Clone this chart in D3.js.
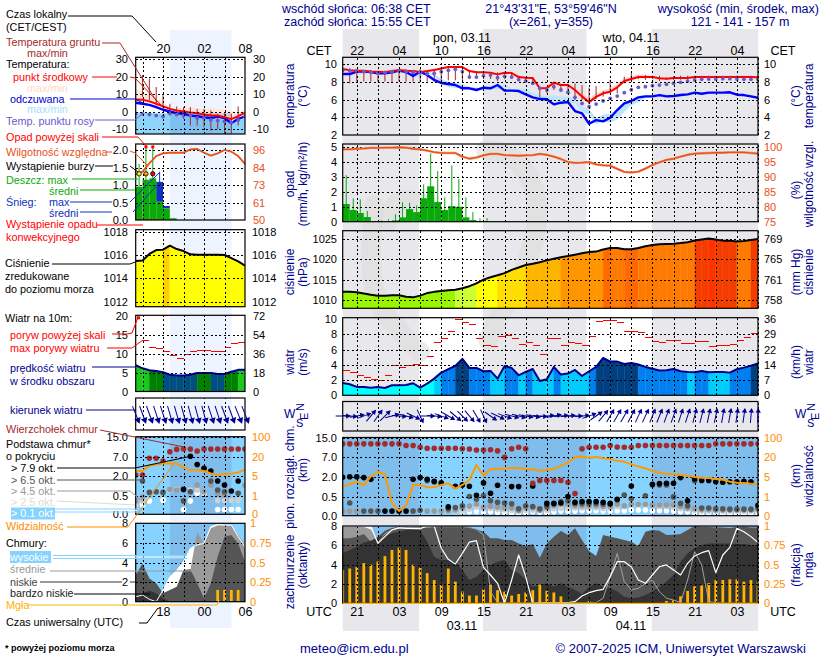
<!DOCTYPE html>
<html>
<head>
<meta charset="utf-8">
<script src="https://cdnjs.cloudflare.com/ajax/libs/d3/7.8.5/d3.min.js"></script>
<style>
  html, body { margin: 0; padding: 0; background: #fff; }
  svg { display: block; }
  text { font-family: "Liberation Sans", Arial, sans-serif; }
</style>
</head>
<body>
<svg id="chart" width="820" height="660"></svg>
<script>
// ---- main panel data (hourly, 19 UTC 02.11 -> 06 UTC 05.11) ----
const cetLabels = ['22', '04', '10', '16', '22', '04', '10', '16', '22', '04'];
const utcLabels = ['21', '03', '09', '15', '21', '03', '09', '15', '21', '03'];
const labelHours = [2, 8, 14, 20, 26, 32, 38, 44, 50, 56];
const gridHours = d3.range(2, 60, 3);
const nightHours = [[0, 10.85], [19.92, 34.63], [43.9, 59]];

const tempMid = [9.44,9.29,9.25,9.25,9.13,9.13,9.06,9.2,9.32,9.25,9.2,9.1,9.2,9.32,9.5,9.66,9.66,9.66,9.2,9.06,9.06,9.02,8.83,9.02,8.98,8.53,8.46,8.42,7.26,7.3,7.9,7.63,7.63,7.07,6.35,5.7,6.3,6.7,6.87,7.37,8.08,8.3,8.53,8.53,8.53,8.4,8.35,8.42,8.42,8.42,8.53,8.53,8.53,8.53,8.53,8.53,8.53,8.53,8.53,8.5];
const tempMax = [9.5,9.45,9.4,9.35,9.25,9.2,9.2,9.3,9.4,9.35,9.3,9.2,9.3,9.4,9.55,9.7,9.72,9.72,9.3,9.15,9.15,9.1,8.95,9.1,9.05,8.65,8.6,8.55,7.5,7.6,8.1,7.85,7.8,7.35,6.75,6.1,6.7,7.05,7.3,7.8,8.4,8.65,8.85,8.8,8.7,8.55,8.5,8.5,8.5,8.5,8.6,8.6,8.6,8.6,8.6,8.6,8.6,8.6,8.6,8.6];
const tempMin = [9.1,8.9,8.85,8.9,8.9,8.95,8.95,8.95,9.1,9.05,9.05,9.0,9.1,9.2,9.4,9.55,9.55,9.55,9.1,8.95,8.95,8.9,8.7,8.9,8.85,8.4,8.3,8.3,7.1,7.1,7.7,7.45,7.45,6.9,6.2,5.55,6.1,6.55,6.7,7.2,7.95,8.2,8.4,8.4,8.4,8.3,8.25,8.3,8.3,8.3,8.4,8.4,8.4,8.4,8.4,8.4,8.4,8.4,8.4,8.4];
const feels = [8.87,8.87,9.14,9.14,9.1,8.95,8.95,9.06,9.25,9.1,8.65,9.14,8.76,8.2,7.86,7.74,7.63,7.26,7.26,7.07,7.33,7.26,7.63,7.0,7.0,6.95,6.58,6.24,6.05,6.02,5.45,5.64,5.71,4.7,4.44,3.27,3.68,3.53,3.95,4.81,5.56,5.83,6.24,6.35,6.35,6.5,6.35,6.39,6.5,6.58,6.77,6.65,6.77,6.77,6.77,6.81,6.54,6.5,6.35,6.2];
const feelsMax = [9.0,9.0,9.2,9.2,9.2,9.05,9.05,9.15,9.3,9.2,8.95,8.8,9.2,8.9,8.3,8.0,7.85,7.75,7.4,7.35,7.2,7.45,7.4,7.75,7.15,7.2,7.2,6.75,6.5,6.4,6.5,6.3,6.3,6.1,5.2,4.9,3.9,4.3,4.4,4.8,5.4,5.9,6.1,6.45,6.5,6.45,6.55,6.45,6.5,6.6,6.7,6.85,6.75,6.85,6.85,6.85,6.6,6.55,6.4,6.25];
const feelsMin = [8.75,8.75,9.05,9.05,9.0,8.85,8.85,8.95,9.15,9.0,8.6,8.5,9.05,8.55,7.8,7.4,7.3,7.3,7.15,7.15,6.95,7.2,7.1,7.5,6.9,6.85,6.8,6.45,6.15,5.95,5.9,5.35,5.5,5.6,4.6,4.3,3.2,3.55,3.4,3.75,4.6,5.35,5.7,6.1,6.25,6.25,6.4,6.25,6.3,6.45,6.5,6.7,6.55,6.7,6.7,6.7,6.45,6.4,6.25,6.1];
const dewPoint = [9.3,9.25,9.21,9.14,9.06,8.98,9.06,9.14,9.25,9.14,9.06,9.06,8.91,8.95,9.14,9.29,9.4,9.14,8.53,8.53,8.68,8.76,8.46,8.61,8.53,8.23,8.08,7.82,7.26,7.07,7.44,7.07,6.8,6.24,5.56,5.19,5.49,5.83,6.13,6.39,6.77,7.1,7.37,7.44,7.56,7.63,7.71,7.82,7.93,8.08,8.2,8.27,8.31,8.31,8.35,8.35,8.31,8.27,8.27,8.27];
const groundMax = [9.44,9.51,9.44,9.32,9.32,9.21,9.21,9.32,9.44,9.44,9.32,9.44,9.32,9.44,9.59,9.66,9.66,9.66,9.32,9.21,9.14,9.06,9.06,9.06,9.06,8.68,8.53,8.46,7.44,7.33,8.0,7.71,7.71,7.82,7.63,7.33,7.52,6.95,8.2,7.44,8.57,9.06,8.68,8.75,8.68,8.68,8.46,8.61,8.68,8.68,8.68,8.68,8.68,8.68,8.68,8.68,8.68,8.68,8.68,8.68];
const groundMin = [9.14,7.82,8.01,8.01,8.01,8.01,8.01,7.93,8.01,8.01,8.01,8.01,8.01,8.01,8.08,8.16,8.16,8.2,8.31,8.31,8.31,8.31,8.08,8.31,8.31,8.08,8.01,7.71,6.2,6.69,7.07,7.07,6.8,5.94,5.94,5.45,6.05,6.32,6.8,6.69,7.82,8.2,8.31,8.2,8.31,8.08,8.23,8.2,8.23,8.23,8.23,8.23,8.23,8.23,8.23,8.23,8.23,8.23,8.23,8.23];

const rainMean = [1.18,.78,.58,.31,.02,.02,.02,.09,.29,.84,.64,1.56,2.36,1.31,.78,1.04,1.0,.29,.11,.04];
const rainMax = [3.1,1.56,1.49,.71,.05,.09,.16,.49,1.29,1.27,1.07,2.49,4.56,3.38,1.62,3.76,2.84,1.62,.64,.22,.24];
const humidity = [99.1,99.1,99.3,99.4,99.6,99.6,99.7,99.7,99.8,99.7,99.3,99.1,98.7,98.2,97.9,97.9,97.9,96.7,96,96.4,97.1,97.6,97.6,97.2,97.1,97,97.1,97.2,97.6,97.3,96.7,95.9,94.9,94.6,94.7,94.9,94.1,93.8,93.7,92.6,91.6,91.4,91.7,92.7,93.9,94.8,95.6,96,96.7,97.3,97.7,97.8,97.9,98,98,98.1,98.1,98.1,97.9,97.7];

const pressure = [1012,1012,1011.9,1011.6,1011.3,1011.07,1011.07,1011.15,1011.15,1010.8,1010.65,1011.07,1011.7,1012,1012.2,1012.4,1012.5,1012.9,1013.4,1014.1,1015,1015.6,1016.07,1016.6,1017.4,1018,1018.6,1018.9,1019.3,1019.75,1020.15,1020.5,1020.8,1021.15,1021.5,1021.8,1021.9,1022.4,1022.8,1022.8,1022.5,1022.5,1022.8,1023.2,1023.5,1023.7,1023.8,1023.85,1024,1024.2,1024.65,1024.9,1025.1,1024.85,1024.6,1024.6,1024.4,1024.5,1024.75,1025];

const windSpeed = [1.62,1.45,1.1,1.1,1,1.1,.96,1.32,1.32,1.36,1.58,1.0,1.54,2.19,2.98,3.42,3.86,4.78,3.6,3.6,3.16,3.2,2.19,3.86,3.6,2.63,3.07,3.46,1.89,2.1,3.73,2.72,2.85,3.33,2.54,3.16,3.73,4.91,4.43,4.43,4.12,4.25,4.04,3.73,3.5,3.25,3.29,3.46,3.16,3.07,3.03,3.2,3.03,3.07,3.07,2.98,3.42,3.64,3.9,4.17];
const windGust = [3.25,2.98,2.59,2.32,2.02,1.93,2.59,3.95,3.68,3.86,4.04,3.95,5.04,6.93,7.41,8.42,10,9.6,9.3,7.41,6.58,6.4,7.72,7.9,7.41,6.67,6.93,6.58,5.35,7.41,7.41,6.54,6.93,6.75,6.54,7.72,9.74,9.82,9.82,9.6,8.42,8.42,8.25,7.59,7.06,6.93,7.19,7.19,6.8,6.8,7.06,7.06,6.4,6.54,6.54,6.67,7.19,7.59,8.11];
const windDir = [90,95,80,70,40,35,45,75,95,105,115,155,90,95,110,120,130,135,140,150,155,125,115,110,105,105,100,100,95,85,80,85,85,90,85,70,55,40,30,30,30,28,25,25,22,22,20,20,18,18,15,15,12,12,10,10,8,8,5,3];

const cloudTop = [12.4,12.4,12.4,12.4,12.4,12.4,12.4,12.4,12.4,11.7,11.7,11,10.6,10.6,10.6,10.6,10.6,10.4,10.3,9.9,9.9,10,9.5,6.9,10.4,11,10.4,1.5,1.72,1.72,1.72,1.72,1.58,.72,10.4,11,11,11,11.7,11.1,11,11,11.7,11.7,11.7,11.7,11.7,11.7,11.7,11.7,11.7,11.7,11.7,12.4,12.4,12.4,12.4,12.4,12.4,12.4];
const base79 = [1.95,2,2,1.93,1.8,null,.12,.12,.12,.12,1.8,1.93,1.8,1.65,1.53,.23,1.28,1.38,1.28,.6,1.53,.75,1.35,null,1.25,1.25,null,1.3,null,.32,.32,.33,.5,.35,.37,.37,.37,.35,.32,.43,null,1.3,null,null,1.43,1.48,1.5,1.5,1.93,.39,1.83,1.72,1.72,1.62,1.58,1.62,1.62,1.65,1.62,.27];
const base65 = [null,.33,null,.12,.12,.12,null,null,null,null,.12,.14,1.7,1.6,1.5,.18,.21,.26,.5,.43,.55,.39,.35,.33,.31,.18,.26,.24,.18,.24,.31,.37,.39,.32,.32,.32,.32,.3,.3,.41,.61,.44,null,.56,1.38,1.38,1.38,.49,.32,.26,1.7,.2,.2,.18,.18,.17,.17,.17,.17,.2];
const base45 = [.12,.12,.12,null,null,null,null,null,null,null,null,null,.12,.12,.12,.13,.15,.2,.25,.3,.22,.24,.22,.2,.2,.13,.2,.2,.14,.2,.26,.3,.3,.26,.26,.26,.26,.24,.24,.3,.26,.3,.3,.3,.28,.28,.28,.28,.24,.2,.18,.16,.16,.15,.15,.15,.15,.15,.15,.16];
const base25 = [null,null,null,null,null,null,null,null,null,null,null,null,null,null,null,null,.11,.12,.17,.22,.17,.19,.16,.15,.14,.13,.14,.14,.13,.14,.18,.19,.19,.2,.2,.2,.2,.19,.19,.24,.24,.32,.3,.3,.24,.24,.24,.22,.18,.17,.14,.12,.12,.12,.12,.12,.12,.12,.12,.12];
const base01 = [null,null,null,null,null,null,null,null,null,null,null,null,null,null,null,null,null,.1,.1,.11,.1,.1,.09,.09,.08,.08,.08,.1,.09,.08,.1,.12,.12,.12,.13,.13,.13,.12,.12,.13,.13,.15,.15,.15,.13,.13,.13,.12,.1,.1,.08,.07,.07,.07,.06,.06,.06,.06,.06,.06];
const visibility = [3,3.53,4,3.27,5.2,8.8,7,.65,.25,.53,3.33,3.33,2.87,2.87,3.33,3.67,2.6,3.33,4.33,13.9,5.76,10.6,11.1,11.1,11.6,11.6,10.8,10.6,9.3,10.3,10.8,13.4,15.7,20,21,19.5,20,19,18.2,17.2,16.4,14.4,12.8,11.4,9.3,8,7.3,6.8,6.3,5.8,4.93,4.8,4.73,4.53,4.4,4,3.8,3.73,3.6,3.53];

const cloudHigh = [8,8,8,8,8,6.2,6.9,7.6,7.8,7.76,7.72,7.72,8,8,5.7,4.55,4.07,5.17,6.34,6.48,3.72,2.93,2.07,0,2.41,5,2.76,0,.07,.07,.07,.07,.07,.17,.76,1.1,1.31,1.45,2.76,4.31,4.31,3.79,2.41,2.07,2.93,3.79,3.97,3.45,2.93,4.14,4.9,5.24,5.45,3.17,5,5.79,7.76,7.41,6.9,6.28];
const cloudMid = [8,8,8,7.86,7.6,6.28,7.17,7.59,7.86,7.86,7.86,7.86,7.86,7.93,7.93,7.93,7.93,7.93,7.86,7.66,7.07,1.2,.07,.05,.05,.05,.05,.05,.05,.05,.05,.05,.05,.05,.05,.07,.07,.52,2.76,5.17,2.24,1.38,1.55,2.07,2.41,1.2,.52,.34,.07,2.41,5.34,3.97,.17,.07,.02,.02,.02,.02,.02,.02];
const cloudLow = [6.72,6.72,6.9,7.17,6.38,6.9,7.52,7.79,7.93,7.93,7.86,7.93,7.93,7.93,7.9,7.93,7.93,7.97,7.86,7.66,7.41,6.72,6.72,6.55,6.55,6.2,5.93,6.14,4.72,6.2,6.9,7.48,7.07,7.76,6.55,5.41,4.9,7.07,6.9,6.72,6.55,6.38,5.93,7.41,7.59,7.52,7.07,7.1,7.17,7.59,8,7.9,7.9,7.85,7.85,7.8,7.9,7.95,7.85,7.85];
const cloudVeryLow = [5.17,5.52,5.86,6.28,6.48,6.83,7.03,7.24,7.41,7.59,7.76,7.59,6.38,4.83,4.48,4.48,4.31,3.45,2.41,2.76,3.45,3.97,4.31,4.48,3.45,3.1,2.41,1.72,1.9,2.07,1.72,2.07,1.72,1.38,.97,1.72,2.07,1.72,1.55,1.21,.69,.52,.59,.86,1.21,1.72,2.24,2.93,4.31,5.17,5.69,6.03,6.2,6.2,6.2,6.2,6.14,6.14,6.03,6.03];
const fog = [.43,.45,.47,.52,.5,.54,.61,.69,.72,.69,.5,.46,.39,.3,.24,.45,.28,.15,.1,.1,.18,.24,.17,.15,.1,.12,.14,.17,.24,.16,.14,.09,0,0,0,.03,0,0,0,0,0,0,0,0,0,0,.03,.04,.09,.16,.22,.23,.26,.3,.3,.31,.31,.28,.3,.28];

// ---- left panel data (hourly, 15 UTC -> 07 UTC) ----
const leftTopLabels = ['20', '02', '08'];
const leftBottomLabels = ['18', '00', '06'];
const leftLabelHours = [4, 10, 16];
const leftGridHours = [1, 4, 7, 10, 13];

const lTemp = [6.9,6.7,5.8,4.4,2.9,1.5,.6,0,-.6,-1,-1.7,-2.3,-2.3,-3.2,-4.4,-2.7,-.8];
const lTempMax = [13.5,11,9,7,5,2.5,1.5,2.5,2.5,2,1.5,2,1.5,1.5,.5,-1.3,1.5];
const lFeels = [5,4.4,3.8,2.5,1,0,-1,-1.3,-2.3,-2.7,-3.3,-3.7,-2.9,-3.7,-6.7,-4.2,-2.9];
const lFeelsMax = [-.5,-.5,-.7,-1,-1,-.8,-1.2,-1.5,-1.8,-3,-3.5,-4,-4.2,-4.5,-5.5,-5,-4];
const lDew = [-1.3,-1.3,-1.7,-2.3,-2.9,-1,-1.7,-2.3,-2.3,-3.7,-3.7,-4.8,-5.2,-5.6,-6.2,-4.8,-2.9];
const lGroundMax = [null,20.8,18.8,14,9.2,4.4,2.9,2.5,2.5,1.5,1.5,.6,-1.3,-1,-1.3,2.9,null];
const lGroundMin = [null,8.3,6.4,3.5,1.5,-2.3,-2.3,-4.2,-8.1,-8.1,-9,-11,-10,-12.9,-12.9,-8,null];

const lRain = [.95,1.15,1.19,.52,.33,.05];
const lSnow = [0,0,0,.57,.07,0];
const lRainMax = [1.6,2.5,2.5];
const lSnowMax = [null,null,null,1.38];
const lStormBins = [0, 1, 2];
const lStormColors = ['#ffee00', '#ffa500', '#ff0000'];
const lConvectiveBins = [0, 1, 2, 3];
const lHumidity = [80.2,81.8,87.2,92,93.8,94.2,94.2,94.2,96.4,96.7,94.2,92.3,93.8,96,94.9,92,86.8];

const lPressure = [1015.49,1015.54,1016.09,1016.43,1016.46,1016.8,1016.51,1016.34,1016.06,1016.03,1016.03,1016.03,1016.03,1016,1015.74,1015.46,1015.09];

const lWind = [6.9,6.1,5.6,5.4,5.1,4.4,4.2,4.2,4.4,4.9,4.9,4.9,4.6,4.6,5.2,5.7,5.7];
const lGust = [20.5,13.4,11.6,11.4,10.4,9.5,8.7,9.7,10.5,10.7,10.8,10.4,10.4,11.6,12.7,12.9];
const lWindDir = [158,160,160,162,162,164,164,165,165,165,165,162,162,160,160,158,158];

const lCloudTop = [2.26,2.26,6.57,6.57,5.88,9,9.93,10.07,10.07,9.27,10.07,10.07,10.07,10.07,10.07,10.07,10.07];
const lBase79 = [null,null,null,null,null,null,null,.98,7.2,4.98,3.97,3.29,1.62,1.31,.86,1.62,null];
const lBase65 = [null,1.62,.75,.8,.75,null,null,.36,.8,null,null,1.62,.93,.8,null,.69,null];
const lBase45 = [.36,.47,null,null,null,.97,.93,null,null,1.31,.8,1.31,.69,.53,null,null,1.3];
const lBase25 = [.25,.36,null,null,null,.93,.98,null,.93,.93,.75,null,.37,.37,.37,.38,null];
const lBase01 = [null,.25,.36,null,.38,null,null,.13,.36,.68,.68,null,.13,.13,.13,.13,null];
const lVisibility = [8.9,8.9,13,14,14.8,14.8,14.8,11.5,9.4,9.4,8.9,7,5.8,6.3,6.8,7.8,9.9];

const lCloudHigh = [.5,.68,.24,0,1.19,2.55,3.2,4.1,5.44,5.8,5.95,7.65,7.89,7.82,7.82,6.63,5.6];
const lCloudMid = [0,0,0,0,0,0,0,.85,3.2,7.1,5.95,7.5,7.8,7.8,7.8,6.8,5.8];
const lCloudLow = [2.72,3.9,2.38,1.87,.85,1.19,1.53,3.23,3.3,1.87,.34,1.87,4.6,6.63,6.8,5.95,4.08];
const lCloudVeryLow = [.5,.85,1.12,.85,.34,0,0,0,0,0,0,0,0,0,0,0,0];
const lFog = [0,0,0,0,0,0,0,0,0,0,0,0,.15,.15,.15,.15,0];

// ---- axis ticks ----
const cloudBaseTicks = [0, .5, 2, 7, 15];
const visTicks = [0, 1, 5, 20, 100];
const fogTicks = [0, .25, .5, .75, 1];
const oktaTicks = [0, 2, 4, 6, 8];

// ---- colours ----
const navy = '#000090';
const orange = '#ff8c00';
const humColor = '#e8501a';
const brown = '#a52a2a';
const dewColor = '#6a5acd';
const baseColors = ['#ffffff', '#cfcfcf', '#9a9a9a', '#555555', '#000000'];
const skyDay = '#86d3ff';
const skyNight = '#7fbdec';

const svg = d3.select('#chart');

const xMain = d3.scaleLinear().domain([0, 59]).range([342.7, 758]);
const xLeft = d3.scaleLinear().domain([0, 16]).range([135.7, 245]);

// helpers
function clip(id, xs, top, bottom) {
    svg.append('clipPath').attr('id', id).append('rect')
        .attr('x', xs.range()[0]).attr('y', top)
        .attr('width', xs.range()[1] - xs.range()[0]).attr('height', bottom - top);
}

function grid(xs, hours, ys, ticks, top, bottom) {
    const gx = svg.append('g').attr('transform', 'translate(0,' + bottom + ')')
        .call(d3.axisBottom(xs).tickValues(hours).tickSize(top - bottom).tickFormat(''));
    const gy = svg.append('g').attr('transform', 'translate(' + xs.range()[0] + ',0)')
        .call(d3.axisLeft(ys).tickValues(ticks).tickSize(xs.range()[0] - xs.range()[1]).tickFormat(''));
    [gx, gy].forEach(g => {
        g.select('.domain').remove();
        g.selectAll('line').attr('stroke', '#000').attr('stroke-width', 1).attr('stroke-dasharray', '2,2.4')
            .attr('shape-rendering', 'crispEdges');
    });
}

function frame(xs, top, bottom) {
    svg.append('rect').attr('x', xs.range()[0]).attr('y', top)
        .attr('width', xs.range()[1] - xs.range()[0]).attr('height', bottom - top)
        .attr('fill', 'none').attr('stroke', '#000').attr('stroke-width', 1.2);
}

function yAxis(scale, ticks, xPos, side, color, fmt) {
    const axis = (side === 'left' ? d3.axisLeft(scale) : d3.axisRight(scale))
        .tickValues(ticks).tickSize(0).tickPadding(0).tickFormat(fmt || (d => d));
    const g = svg.append('g').attr('transform', 'translate(' + xPos + ',0)').call(axis);
    g.select('.domain').remove();
    g.selectAll('text').attr('fill', color || '#000').attr('font-size', 11)
        .style('font-family', '"Liberation Sans", Arial, sans-serif');
}

function xAxis(scale, ticks, labels, y) {
    const g = svg.append('g').attr('transform', 'translate(0,' + y + ')')
        .call(d3.axisTop(scale).tickValues(ticks).tickSize(0).tickPadding(0).tickFormat((d, i) => labels[i]));
    g.select('.domain').remove();
    g.selectAll('text').attr('fill', '#000').attr('font-size', 12.5)
        .style('font-family', '"Liberation Sans", Arial, sans-serif');
}

function label(text, x, y, color, size, anchor) {
    return svg.append('text').attr('x', x).attr('y', y).attr('fill', color || '#000')
        .attr('font-size', size || 10.8).attr('text-anchor', anchor || 'start').text(text);
}

function vertical(text, x, y, color) {
    svg.append('text').attr('transform', 'translate(' + x + ',' + y + ') rotate(-90)')
        .attr('fill', color || navy).attr('font-size', 12).attr('text-anchor', 'middle').text(text);
}

function leader(color, pts, width) {
    svg.append('path').attr('d', d3.line()(pts)).attr('fill', 'none')
        .attr('stroke', color).attr('stroke-width', width || 1);
}

function drawLine(xs, ys, values, color, width, clipId) {
    svg.append('path').datum(values)
        .attr('d', d3.line().defined(d => d != null).x((d, i) => xs(i)).y(d => ys(d)))
        .attr('fill', 'none').attr('stroke', color).attr('stroke-width', width)
        .attr('stroke-linejoin', 'round').attr('clip-path', 'url(#' + clipId + ')');
}

function ribbon(xs, ys, upper, lower, color, clipId) {
    svg.append('path').datum(upper.map((d, i) => [d, lower[i]]))
        .attr('d', d3.area().x((d, i) => xs(i)).y0(d => ys(d[1])).y1(d => ys(d[0])))
        .attr('fill', color).attr('clip-path', 'url(#' + clipId + ')');
}

function columns(xs, ys, values, bottom, colorOf, clipId) {
    const area = d3.area().x(d => xs(d)).y0(bottom).y1(d => ys(values[d]));
    svg.append('g').attr('clip-path', 'url(#' + clipId + ')')
        .selectAll('path').data(d3.range(values.length - 1)).join('path')
        .attr('d', i => area([i, i + 1]))
        .attr('fill', i => colorOf(i)).attr('stroke', i => colorOf(i)).attr('stroke-width', .4);
}

function dashes(xs, ys, values, color, clipId) {
    svg.append('g').attr('clip-path', 'url(#' + clipId + ')')
        .selectAll('line').data(values).join('line')
        .attr('x1', (d, i) => xs(i)).attr('x2', (d, i) => xs(i + 1))
        .attr('y1', d => ys(d)).attr('y2', d => ys(d))
        .attr('stroke', color).attr('stroke-width', 1).attr('shape-rendering', 'crispEdges');
}

function dots(xs, ys, values, color, r, clipId) {
    svg.append('g').attr('clip-path', clipId ? 'url(#' + clipId + ')' : null)
        .selectAll('circle').data(values.map((d, i) => [i, d]).filter(d => d[1] != null)).join('circle')
        .attr('cx', d => xs(d[0])).attr('cy', d => ys(d[1])).attr('r', r).attr('fill', color);
}

function ranges(xs, ys, hi, lo, color, width, clipId) {
    svg.append('g').attr('clip-path', 'url(#' + clipId + ')')
        .selectAll('line').data(hi.map((d, i) => [i, d, lo[i]]).filter(d => d[1] != null)).join('line')
        .attr('x1', d => xs(d[0])).attr('x2', d => xs(d[0]))
        .attr('y1', d => ys(d[1])).attr('y2', d => ys(d[2]))
        .attr('stroke', color).attr('stroke-width', width);
}

function arrows(xs, yMid, dirs, len, headSize) {
    const g = svg.append('g').selectAll('g').data(dirs).join('g')
        .attr('transform', (d, i) => 'translate(' + xs(i) + ',' + yMid + ') rotate(' + d + ')');
    g.append('line').attr('y1', len / 2).attr('y2', -len / 2)
        .attr('stroke', navy).attr('stroke-width', 1);
    g.append('path').attr('d', d3.symbol(d3.symbolTriangle, headSize))
        .attr('transform', 'translate(0,' + (-len / 2 + 2) + ')').attr('fill', navy);
}

// ---- background bands ----
nightHours.forEach(h => {
    svg.append('rect').attr('x', xMain(h[0])).attr('width', xMain(h[1]) - xMain(h[0]))
        .attr('y', 29).attr('height', 602).attr('fill', '#e8e8ec');
});
svg.append('rect').attr('x', 170).attr('width', 61.5).attr('y', 30).attr('height', 598).attr('fill', '#eef4ff');

// watermark swirl behind the main panels
[
    'M 374 205 C 368 270, 370 305, 395 325 C 405 338, 412 345, 420 352',
    'M 486 150 C 525 150, 548 195, 532 245 C 522 285, 505 300, 488 340',
    'M 388 222 C 392 200, 405 195, 425 205'
].forEach(d => {
    svg.append('path').attr('d', d).attr('fill', 'none').attr('stroke', '#dadada')
        .attr('stroke-width', 20).attr('stroke-linecap', 'round').attr('opacity', .55);
});

// ---- MAIN: temperature ----
{
    const top = 57.3, bottom = 135;
    const y = d3.scaleLinear().domain([2, 10]).range([135, 64]);
    clip('mTemp', xMain, top, bottom);
    ribbon(xMain, y, tempMax, tempMin, '#ffd9d9', 'mTemp');
    ribbon(xMain, y, feelsMax, feelsMin, '#bde4ff', 'mTemp');
    ranges(xMain, y, groundMax, groundMin, brown, 1, 'mTemp');
    drawLine(xMain, y, feels, '#0000ff', 2.4, 'mTemp');
    drawLine(xMain, y, tempMid, '#ff0000', 2, 'mTemp');
    dots(xMain, y, dewPoint, dewColor, 1.9, 'mTemp');
    grid(xMain, gridHours, y, [4, 6, 8, 10], top, bottom);
    frame(xMain, top, bottom);
    yAxis(y, [2, 4, 6, 8, 10], 337, 'left');
    yAxis(y, [2, 4, 6, 8, 10], 764, 'right');
}

// ---- MAIN: rain and humidity ----
{
    const top = 144, bottom = 221.7;
    const y = d3.scaleLinear().domain([0, 5]).range([bottom, 146.7]);
    const yHum = d3.scaleLinear().domain([75, 100]).range([bottom, 146.7]);
    clip('mRain', xMain, top, bottom);
    svg.append('g').selectAll('rect').data(rainMean).join('rect')
        .attr('x', (d, i) => xMain(i)).attr('width', xMain(1) - xMain(0))
        .attr('y', d => y(d)).attr('height', d => bottom - y(d)).attr('fill', '#0aaa0a');
    svg.append('g').selectAll('line').data(rainMax).join('line')
        .attr('x1', (d, i) => xMain(i + .5)).attr('x2', (d, i) => xMain(i + .5))
        .attr('y1', d => y(d)).attr('y2', bottom).attr('stroke', '#0aaa0a').attr('stroke-width', 1);
    grid(xMain, gridHours, y, [1, 2, 3, 4, 5], top, bottom);
    drawLine(xMain, yHum, humidity, '#f08a60', 2.4, 'mRain');
    drawLine(xMain, yHum, humidity, humColor, 1.2, 'mRain');
    frame(xMain, top, bottom);
    yAxis(y, [0, 1, 2, 3, 4, 5], 337, 'left');
    yAxis(yHum, [75, 80, 85, 90, 95, 100], 764, 'right', humColor);
}

// ---- MAIN: pressure ----
{
    const top = 230.7, bottom = 308.3;
    const y = d3.scaleLinear().domain([1010, 1025]).range([300, 239]);
    const yHg = d3.scaleLinear().domain([757.6, 768.8]).range([300, 239]);
    const color = d3.scaleThreshold()
        .domain([1012.45, 1014, 1016, 1018.5, 1020.4, 1022.3, 1022.75, 1024.6, 1025.05])
        .range(['#99f500', '#ccff33', '#ffff00', '#ffdd00', '#ffb400', '#ff9600', '#ff6a00', '#ff7a00', '#f53d00', '#ff3300']);
    clip('mPress', xMain, top, bottom);
    columns(xMain, y, pressure, bottom, i => color(pressure[i]), 'mPress');
    drawLine(xMain, y, pressure, '#000', 2, 'mPress');
    grid(xMain, gridHours, y, [1010, 1015, 1020, 1025], top, bottom);
    frame(xMain, top, bottom);
    yAxis(y, [1010, 1015, 1020, 1025], 337, 'left');
    yAxis(yHg, [757.6, 761.3, 765.1, 768.8], 764, 'right', '#000', d => Math.round(d));
}

// ---- MAIN: wind ----
{
    const top = 317.7, bottom = 395.3;
    const y = d3.scaleLinear().domain([0, 10]).range([bottom, 319.2]);
    const yKmh = d3.scaleLinear().domain([0, 36]).range([bottom, 319.2]);
    const color = d3.scaleThreshold().domain([1.9, 3.1, 4]).range(['#00ffff', '#00ccff', '#0080f0', '#004080']);
    clip('mWind', xMain, top, bottom);
    columns(xMain, y, windSpeed, bottom, i => color((windSpeed[i] + windSpeed[i + 1]) / 2), 'mWind');
    dashes(xMain, y, windGust, '#ff0000', 'mWind');
    drawLine(xMain, y, windSpeed, '#000090', 2, 'mWind');
    grid(xMain, gridHours, y, [2, 4, 6, 8], top, bottom);
    frame(xMain, top, bottom);
    yAxis(y, [0, 2, 4, 6, 8, 10], 337, 'left');
    yAxis(yKmh, [0, 7.2, 14.4, 21.6, 28.8, 36], 764, 'right', '#000', d => Math.round(d));
}

// ---- MAIN: wind direction ----
{
    const top = 401.5, bottom = 431;
    const y = d3.scaleLinear().domain([0, 1]).range([bottom, top]);
    grid(xMain, gridHours, y, [], top, bottom);
    frame(xMain, top, bottom);
    arrows(xMain, 416, windDir, 14, 12);
}

// ---- MAIN: cloud base, top and visibility ----
{
    const top = 437.5, bottom = 515.7;
    const stops = [bottom, 496.5, 476.7, 457, top];
    const y = d3.scaleLinear().domain(cloudBaseTicks).range(stops);
    const yVis = d3.scaleLinear().domain(visTicks).range(stops);
    clip('mBase', xMain, top, bottom);
    svg.append('rect').attr('x', xMain(0)).attr('y', top).attr('width', xMain(59) - xMain(0))
        .attr('height', bottom - top).attr('fill', skyDay);
    nightHours.forEach(h => {
        svg.append('rect').attr('x', xMain(h[0])).attr('y', top).attr('width', xMain(h[1]) - xMain(h[0]))
            .attr('height', bottom - top).attr('fill', skyNight);
    });
    [base01, base25, base45, base65, base79].forEach((b, k) => dots(xMain, y, b, baseColors[k], 2.8, 'mBase'));
    dots(xMain, y, cloudTop, brown, 2.8, 'mBase');
    grid(xMain, gridHours, y, cloudBaseTicks.slice(1), top, bottom);
    drawLine(xMain, yVis, visibility, '#ff9900', 2, 'mBase');
    frame(xMain, top, bottom);
    yAxis(y, cloudBaseTicks, 337, 'left', '#000', d3.format('.1f'));
    yAxis(yVis, visTicks, 764, 'right', orange);
}

// ---- MAIN: cloud cover and fog ----
{
    const top = 526, bottom = 603.3;
    const y = d3.scaleLinear().domain([0, 8]).range([bottom, top]);
    const yFog = d3.scaleLinear().domain([0, 1]).range([bottom, top]);
    const area = d3.area().x((d, i) => xMain(i)).y0(bottom).y1(d => y(d));
    clip('mCloud', xMain, top, bottom);
    svg.append('rect').attr('x', xMain(0)).attr('y', top).attr('width', xMain(59) - xMain(0))
        .attr('height', bottom - top).attr('fill', skyDay);
    nightHours.forEach(h => {
        svg.append('rect').attr('x', xMain(h[0])).attr('y', top).attr('width', xMain(h[1]) - xMain(h[0]))
            .attr('height', bottom - top).attr('fill', skyNight);
    });
    [[cloudHigh, '#ffffff'], [cloudMid, '#9a9a9a'], [cloudLow, '#555555'], [cloudVeryLow, '#333333']].forEach(c => {
        svg.append('path').datum(c[0]).attr('d', area).attr('fill', c[1]);
    });
    svg.append('g').attr('clip-path', 'url(#mCloud)').selectAll('rect').data(fog).join('rect')
        .attr('x', (d, i) => xMain(i) - 1.4).attr('width', 2.8)
        .attr('y', d => yFog(d)).attr('height', d => bottom - yFog(d)).attr('fill', '#ffb400');
    grid(xMain, gridHours, y, [2, 4, 6], top, bottom);
    drawLine(xMain, y, cloudMid, '#a0a0a0', 1, 'mCloud');
    drawLine(xMain, y, cloudHigh, '#ffffff', 1.2, 'mCloud');
    frame(xMain, top, bottom);
    svg.append('line').attr('x1', xMain(0)).attr('x2', xMain(59)).attr('y1', bottom).attr('y2', bottom)
        .attr('stroke', '#ffb400').attr('stroke-width', 1.2);
    yAxis(y, oktaTicks, 337, 'left');
    yAxis(yFog, fogTicks, 764, 'right', orange);
}

// ---- LEFT: temperature ----
{
    const top = 57.3, bottom = 134;
    const y = d3.scaleLinear().domain([-10, 30]).range([129, 59]);
    clip('lTempC', xLeft, top, bottom);
    ribbon(xLeft, y, lTempMax, lTemp, '#ffe4d8', 'lTempC');
    ribbon(xLeft, y, lFeelsMax, lFeelsMax.map(() => -14), '#8fd4fa', 'lTempC');
    svg.append('rect').attr('x', 170).attr('width', 61.5).attr('y', y(-1)).attr('height', bottom - y(-1))
        .attr('fill', '#5f9fe0').attr('opacity', .35).attr('clip-path', 'url(#lTempC)');
    ranges(xLeft, y, lGroundMax, lGroundMin, brown, 1, 'lTempC');
    drawLine(xLeft, y, lFeels, '#0000ff', 2.4, 'lTempC');
    drawLine(xLeft, y, lTemp, '#ff0000', 2, 'lTempC');
    dots(xLeft, y, lDew, dewColor, 1.9, 'lTempC');
    grid(xLeft, leftGridHours, y, [-10, 0, 10, 20, 30], top, bottom);
    frame(xLeft, top, bottom);
    yAxis(y, [-10, 0, 10, 20, 30], 128, 'left');
    yAxis(y, [-10, 0, 10, 20, 30], 253, 'right');
}

// ---- LEFT: rain and humidity ----
{
    const top = 144, bottom = 220;
    const y = d3.scaleLinear().domain([0, 2]).range([bottom, 150]);
    const yHum = d3.scaleLinear().domain([50, 96]).range([bottom, 150]);
    clip('lRainC', xLeft, top, bottom);
    const bar = xLeft(1) - xLeft(0);
    svg.append('g').selectAll('rect').data(lSnow).join('rect')
        .attr('x', (d, i) => xLeft(i)).attr('width', bar)
        .attr('y', (d, i) => y(d + lRain[i])).attr('height', d => bottom - y(d)).attr('fill', '#1030c0');
    svg.append('g').selectAll('rect').data(lRain).join('rect')
        .attr('x', (d, i) => xLeft(i)).attr('width', bar)
        .attr('y', d => y(d)).attr('height', d => bottom - y(d)).attr('fill', '#0aaa0a');
    svg.append('g').selectAll('line').data(lRainMax).join('line')
        .attr('x1', (d, i) => xLeft(i + .5)).attr('x2', (d, i) => xLeft(i + .5))
        .attr('y1', d => y(Math.min(d, 2.09))).attr('y2', y(.9)).attr('stroke', '#0aaa0a').attr('stroke-width', 1);
    svg.append('g').selectAll('line').data(lSnowMax.map((d, i) => [i, d]).filter(d => d[1] != null)).join('line')
        .attr('x1', d => xLeft(d[0] + .5)).attr('x2', d => xLeft(d[0] + .5))
        .attr('y1', d => y(d[1])).attr('y2', y(1)).attr('stroke', '#1030c0').attr('stroke-width', 1);
    grid(xLeft, leftGridHours, y, [.5, 1, 1.5, 2], top, bottom);
    drawLine(xLeft, yHum, lHumidity, humColor, 1.8, 'lRainC');
    // occurrences: above scale, thunderstorm, convective
    svg.append('g').selectAll('rect').data(lRainMax.map((d, i) => [i, d]).filter(d => d[1] > 2.09)).join('rect')
        .attr('x', d => xLeft(d[0] + .5) - 1.5).attr('y', y(2.09) - 1.5).attr('width', 3).attr('height', 3).attr('fill', '#ff0000');
    svg.append('g').selectAll('circle').data(lStormBins).join('circle')
        .attr('cx', d => xLeft(d + .5)).attr('cy', y(1.32)).attr('r', 2.2)
        .attr('fill', (d, i) => lStormColors[i]).attr('stroke', '#000').attr('stroke-width', .8);
    svg.append('g').selectAll('line').data(lConvectiveBins).join('line')
        .attr('x1', d => xLeft(d)).attr('x2', d => xLeft(d + 1)).attr('y1', bottom - .5).attr('y2', bottom - .5)
        .attr('stroke', '#ff0000').attr('stroke-width', 1).attr('stroke-dasharray', '2,2');
    frame(xLeft, top, bottom);
    yAxis(y, [0, .5, 1, 1.5, 2], 128, 'left', '#000', d3.format('.1f'));
    yAxis(yHum, [50, 61, 73, 84, 96], 253, 'right', humColor);
}

// ---- LEFT: pressure ----
{
    const top = 229.7, bottom = 306.7;
    const y = d3.scaleLinear().domain([1012, 1018]).range([301.7, 231.7]);
    const color = d3.scaleThreshold().domain([1016.6]).range(['#ffff00', '#ffd000']);
    clip('lPressC', xLeft, top, bottom);
    columns(xLeft, y, lPressure, bottom, i => color(lPressure[i + 1]), 'lPressC');
    drawLine(xLeft, y, lPressure, '#000', 2, 'lPressC');
    grid(xLeft, leftGridHours, y, [1012, 1014, 1016, 1018], top, bottom);
    frame(xLeft, top, bottom);
    yAxis(y, [1012, 1014, 1016, 1018], 128, 'left');
    yAxis(y, [1012, 1014, 1016, 1018], 252, 'right');
}

// ---- LEFT: wind ----
{
    const top = 315.3, bottom = 391.5;
    const y = d3.scaleLinear().domain([0, 20]).range([bottom, 315.5]);
    const yKmh = d3.scaleLinear().domain([0, 72]).range([bottom, 315.5]);
    const color = d3.scaleThreshold().domain([4.8, 5.55]).range(['#004f80', '#008000', '#1cc81c']);
    clip('lWindC', xLeft, top, bottom);
    columns(xLeft, y, lWind, bottom, i => color((lWind[i] + lWind[i + 1]) / 2), 'lWindC');
    dashes(xLeft, y, lGust.map(d => d > 20 ? -5 : d), '#ff0000', 'lWindC');
    svg.append('rect').attr('x', xLeft(.4) - 1.5).attr('y', y(19.4) - 1.5).attr('width', 3).attr('height', 3).attr('fill', '#ff0000');
    drawLine(xLeft, y, lWind, '#000090', 2, 'lWindC');
    grid(xLeft, leftGridHours, y, [5, 10, 15], top, bottom);
    frame(xLeft, top, bottom);
    yAxis(y, [0, 5, 10, 15, 20], 128, 'left');
    yAxis(yKmh, [0, 18, 36, 54, 72], 253, 'right');
}

// ---- LEFT: wind direction ----
{
    const top = 398, bottom = 430;
    const y = d3.scaleLinear().domain([0, 1]).range([bottom, top]);
    grid(xLeft, leftGridHours, y, [], top, bottom);
    frame(xLeft, top, bottom);
    arrows(xLeft, 414, lWindDir, 17, 20);
}

// ---- LEFT: cloud base, top and visibility ----
{
    const top = 436.7, bottom = 514.3;
    const stops = [bottom, 495.7, 476, 456.7, top];
    const y = d3.scaleLinear().domain(cloudBaseTicks).range(stops);
    const yVis = d3.scaleLinear().domain(visTicks).range(stops);
    clip('lBaseC', xLeft, top, bottom);
    svg.append('rect').attr('x', xLeft(0)).attr('y', top).attr('width', xLeft(16) - xLeft(0))
        .attr('height', bottom - top).attr('fill', skyDay);
    svg.append('rect').attr('x', 170).attr('y', top).attr('width', 61.5).attr('height', bottom - top).attr('fill', skyNight);
    [lBase01, lBase25, lBase45, lBase65, lBase79].forEach((b, k) => dots(xLeft, y, b, baseColors[k], 2.8, 'lBaseC'));
    dots(xLeft, y, lCloudTop, brown, 2.8, 'lBaseC');
    grid(xLeft, leftGridHours, y, cloudBaseTicks.slice(1), top, bottom);
    drawLine(xLeft, yVis, lVisibility, '#ff9900', 2, 'lBaseC');
    frame(xLeft, top, bottom);
    yAxis(y, cloudBaseTicks, 128, 'left', '#000', d3.format('.1f'));
    yAxis(yVis, visTicks, 252, 'right', orange);
}

// ---- LEFT: cloud cover and fog ----
{
    const top = 523.3, bottom = 601.7;
    const y = d3.scaleLinear().domain([0, 8]).range([bottom, top]);
    const yFog = d3.scaleLinear().domain([0, 1]).range([bottom, top]);
    const area = d3.area().x((d, i) => xLeft(i)).y0(bottom).y1(d => y(d));
    clip('lCloudC', xLeft, top, bottom);
    svg.append('rect').attr('x', xLeft(0)).attr('y', top).attr('width', xLeft(16) - xLeft(0))
        .attr('height', bottom - top).attr('fill', skyDay);
    svg.append('rect').attr('x', 170).attr('y', top).attr('width', 61.5).attr('height', bottom - top).attr('fill', skyNight);
    [[lCloudHigh, '#ffffff'], [lCloudMid, '#9a9a9a'], [lCloudLow, '#555555'], [lCloudVeryLow, '#333333']].forEach(c => {
        svg.append('path').datum(c[0]).attr('d', area).attr('fill', c[1]);
    });
    svg.append('g').selectAll('rect').data(lFog).join('rect')
        .attr('x', (d, i) => xLeft(i) - 1.4).attr('width', 2.8)
        .attr('y', d => yFog(d)).attr('height', d => bottom - yFog(d)).attr('fill', '#ffb400');
    grid(xLeft, leftGridHours, y, [2, 4, 6], top, bottom);
    drawLine(xLeft, y, lCloudHigh, '#ffffff', 1, 'lCloudC');
    frame(xLeft, top, bottom);
    yAxis(y, oktaTicks, 128, 'left');
    yAxis(yFog, fogTicks, 250, 'right', orange);
}

// ---- time axes ----
xAxis(xMain, labelHours, cetLabels, 55);
xAxis(xMain, labelHours, utcLabels, 616);
xAxis(xLeft, leftLabelHours, leftTopLabels, 53);
xAxis(xLeft, leftLabelHours, leftBottomLabels, 616);

label('CET', 319, 55, '#000', 12.5, 'middle');
label('CET', 783, 55, '#000', 12.5, 'middle');
label('UTC', 319, 616, '#000', 12.5, 'middle');
label('UTC', 783, 616, '#000', 12.5, 'middle');
label('pon, 03.11', 462, 42, '#000', 12.5, 'middle');
label('wto, 04.11', 631, 42, '#000', 12.5, 'middle');
label('03.11', 462, 630, '#000', 12.5, 'middle');
label('04.11', 631, 630, '#000', 12.5, 'middle');

// ---- header and footer ----
label('wschód słońca: 06:38 CET', 282, 13, navy, 12.5);
label('zachód słońca: 15:55 CET', 284, 26, navy, 12.5);
label('21°43\'31"E, 53°59\'46"N', 551, 13, navy, 12.5, 'middle');
label('(x=261,  y=355)', 551, 26, navy, 12.5, 'middle');
label('wysokość (min, środek, max)', 819, 13, navy, 12.5, 'end');
label('121 - 141 - 157 m', 740, 26, navy, 12.5, 'middle');
label('meteo@icm.edu.pl', 300, 653, navy, 13);
label('© 2007-2025 ICM, Uniwersytet Warszawski', 806, 653, navy, 13, 'end');
label('* powyżej poziomu morza', 5, 651, '#000', 9).attr('font-weight', 'bold');

// ---- rotated axis titles ----
vertical('temperatura', 294, 96);
vertical('(°C)', 307, 96);
vertical('(°C)', 800, 96);
vertical('temperatura', 813, 96);
vertical('opad', 294, 184);
vertical('(mm/h, kg/m²/h)', 307, 184);
vertical('(%)', 800, 190);
vertical('wilgotność wzgl.', 813, 184);
vertical('ciśnienie', 294, 272);
vertical('(hPa)', 307, 272);
vertical('(mm Hg)', 800, 272);
vertical('ciśnienie', 813, 272);
vertical('wiatr', 294, 362);
vertical('(m/s)', 307, 362);
vertical('(km/h)', 800, 362);
vertical('wiatr', 813, 362);
vertical('pion. rozciągł. chm.', 294, 477);
vertical('(km)', 307, 470);
vertical('(km)', 800, 476);
vertical('widzialność', 813, 476);
vertical('zachmurzenie', 294, 572);
vertical('(oktanty)', 307, 565);
vertical('(frakcja)', 800, 565);
vertical('mgła', 813, 565);

// compass letters
[284, 795].forEach(x0 => {
    label('W', x0, 418, navy, 12);
    label('S', x0 + 12, 427, navy, 11);
    svg.append('text').attr('transform', 'translate(' + (x0 + 12) + ',403) rotate(90)').attr('fill', navy).attr('font-size', 11).text('N');
    svg.append('text').attr('transform', 'translate(' + (x0 + 24) + ',420) rotate(-90)').attr('fill', navy).attr('font-size', 11).text('E');
});

// ---- left legend ----
label('Czas lokalny', 6, 18);
label('(CET/CEST)', 6, 31);
label('Temperatura gruntu', 6, 46, brown);
label('max/min', 27, 57, brown);
label('Temperatura:', 6, 68);
label('punkt środkowy', 13, 81, '#ff0000');
label('max/min', 27, 92, '#ffd9c8');
label('odczuwana', 10, 103, '#0000d0');
label('max/min', 27, 113, '#a9dcff');
label('Temp. punktu rosy', 6, 125, dewColor);
label('Opad powyżej skali', 6, 141, '#ff0000');
label('Wilgotność względna', 6, 156, humColor);
label('Wystąpienie burzy', 6, 170);
label('Deszcz: max', 6, 184, '#0aaa0a');
label('średni', 49, 195, '#0aaa0a');
label('Śnieg:', 6, 206, '#1030c0');
label('max', 49, 206, '#1030c0');
label('średni', 49, 217, '#1030c0');
label('Wystąpienie opadu', 6, 228, '#ff0000');
label('konwekcyjnego', 6, 241, '#ff0000');
label('Ciśnienie', 5, 267);
label('zredukowane', 5, 280);
label('do poziomu morza', 5, 293);
label('Wiatr na 10m:', 5, 322);
label('poryw powyżej skali', 10, 339, '#ff0000');
label('max porywy wiatru', 10, 352, '#ff0000');
label('prędkość wiatru', 10, 372, navy);
label('w środku obszaru', 10, 385, navy);
label('kierunek wiatru', 10, 414, navy);
label('Wierzchołek chmur', 6, 433, brown);
label('Podstawa chmur*', 6, 448);
label('o pokryciu', 6, 460);
label('> 7.9 okt.', 11, 472);
label('> 6.5 okt.', 11, 484, '#555');
label('> 4.5 okt.', 11, 495, '#999');
label('> 2.5 okt.', 11, 506, '#dcdcd4');
svg.append('rect').attr('x', 11).attr('y', 507.5).attr('width', 44).attr('height', 12).attr('fill', '#86d3ff');
label('> 0.1 okt.', 11, 517, '#fff');
label('Widzialność', 6, 530, orange);
label('Chmury:', 6, 547);
svg.append('rect').attr('x', 10).attr('y', 551).attr('width', 41).attr('height', 12).attr('fill', '#86d3ff');
label('wysokie', 10, 561, '#fff');
label('średnie', 10, 573, '#999');
label('niskie', 10, 586, '#444');
label('bardzo niskie', 10, 597, '#222');
label('Mgła', 6, 609, '#ffb400');
label('Czas uniwersalny (UTC)', 6, 626);

// ---- leader lines ----
leader('#000', [[68, 16], [132, 16], [156, 42]]);
leader(brown, [[102, 43], [120, 43], [157, 102]]);
leader('#ff0000', [[92, 77], [117, 77]]);
leader('#ff0000', [[130, 77], [135, 78], [163, 107]]);
leader('#0000d0', [[70, 99], [135, 99], [147, 105]]);
leader(dewColor, [[95, 120], [135, 120], [142, 114]]);
leader('#ff0000', [[102, 137], [138, 137], [146, 146]]);
leader(humColor, [[106, 152], [112, 152]]);
leader(humColor, [[130, 151], [135, 153], [147, 165]]);
leader('#000', [[95, 166], [113, 166]]);
leader('#000', [[130, 166], [138, 172]]);
leader('#0aaa0a', [[72, 179], [138, 179]]);
leader('#0aaa0a', [[80, 190], [135, 190]]);
leader('#1030c0', [[70, 202], [112, 202]]);
leader('#1030c0', [[130, 202], [160, 172]]);
leader('#1030c0', [[80, 212], [112, 212]]);
leader('#1030c0', [[133, 212], [160, 182]]);
leader('#ff0000', [[97, 225], [143, 225]]);
leader('#000', [[52, 264], [130, 264], [135, 262]]);
leader('#ff0000', [[112, 334], [127, 334], [132, 333], [138, 317]]);
leader('#ff0000', [[107, 348], [132, 348], [143, 340]]);
leader(navy, [[92, 367], [135, 367]]);
leader(navy, [[86, 410], [135, 410]]);
leader(brown, [[100, 430], [184, 447]]);
leader('#000', [[57, 468], [135, 468], [192, 456]]);
leader('#555', [[57, 480], [143, 480]]);
leader('#999', [[57, 491], [130, 491], [143, 502]]);
leader('#dcdcd4', [[57, 501], [135, 505]]);
leader('#86d3ff', [[55, 509], [137, 509]]);
leader('#ffffff', [[55, 510.5], [137, 510.5]]);
leader('#86d3ff', [[55, 512], [137, 512]]);
leader(orange, [[67, 527], [128, 527], [173, 465]]);
leader('#86d3ff', [[53, 555.5], [187, 555.5]]);
leader('#ffffff', [[53, 557], [187, 557]]);
leader('#86d3ff', [[53, 558.5], [187, 558.5]]);
leader('#999', [[50, 571], [193, 571]]);
leader('#333', [[40, 582], [122, 582]]);
leader('#333', [[130, 582], [135, 582]]);
leader('#000', [[74, 594], [150, 594]]);
leader('#ffb400', [[27, 605], [217, 605], [219, 600]]);
leader('#000', [[139, 623], [147, 623], [158, 608]]);
</script>
</body>
</html>
